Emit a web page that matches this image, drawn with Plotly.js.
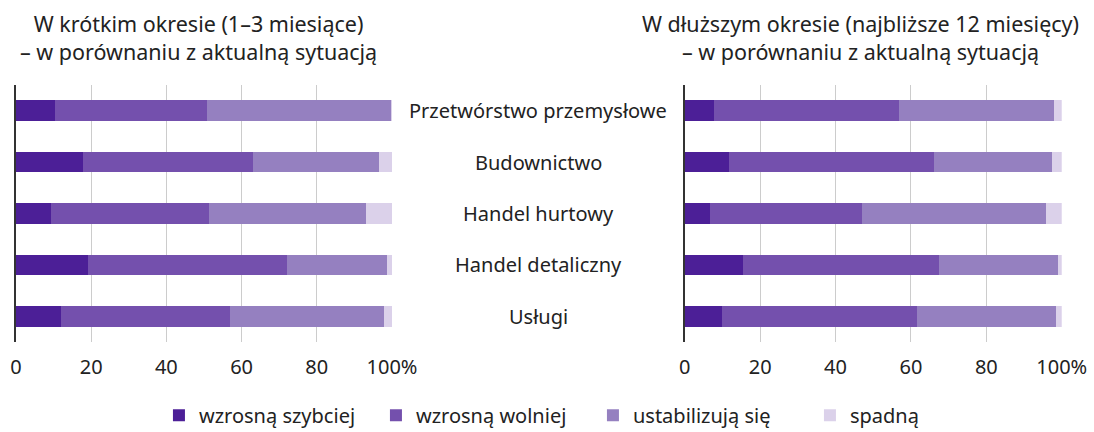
<!DOCTYPE html>
<html>
<head>
<meta charset="utf-8">
<script src="https://cdn.plot.ly/plotly-3.0.1.min.js"></script>
<style>
  body { margin: 0; background: #fff; }
  #chart { width: 1094px; height: 432px; }
</style>
</head>
<body>
<div id="chart"></div>
<script>
// sectors, top to bottom
var sectors = ["Przetwórstwo przemysłowe", "Budownictwo", "Handel hurtowy", "Handel detaliczny", "Usługi"];
var seriesNames = ["wzrosną szybciej", "wzrosną wolniej", "ustabilizują się", "spadną"];
var seriesColors = ["#4c1f97", "#7450ad", "#9580c0", "#dbd1ea"];

// short term (1-3 months), % of answers
var shortFaster = [10.3, 17.7, 9.4, 19.2, 11.9];
var shortSlower = [40.6, 45.4, 42.0, 53.0, 45.0];
var shortStable = [48.8, 33.4, 41.6, 26.6, 41.1];
var shortDown = [0.3, 3.5, 7.0, 1.2, 2.0];

// longer term (next 12 months)
var longFaster = [7.8, 11.7, 6.7, 15.4, 9.9];
var longSlower = [49.0, 54.3, 40.3, 52.0, 51.7];
var longStable = [41.2, 31.5, 48.9, 31.5, 36.8];
var longDown = [2.0, 2.5, 4.1, 1.1, 1.6];

var tickVals = [0, 20, 40, 60, 80, 100];
var tickText = ["0", "20", "40", "60", "80", "100%"];

var titleLeft = ["W krótkim okresie (1–3 miesiące)", "– w porównaniu z aktualną sytuacją"];
var titleRight = ["W dłuższym okresie (najbliższe 12 miesięcy)", "– w porównaniu z aktualną sytuacją"];

var font = "'Noto Sans', Roboto, sans-serif";

var shortData = [shortFaster, shortSlower, shortStable, shortDown];
var longData = [longFaster, longSlower, longStable, longDown];

var traces = [];
for (var i = 0; i < 4; i++) {
  traces.push({
    type: "bar", orientation: "h",
    x: shortData[i], y: sectors,
    name: seriesNames[i],
    marker: { color: seriesColors[i] },
    xaxis: "x", yaxis: "y",
    legendgroup: "g" + i,
    hoverinfo: "x+name"
  });
  traces.push({
    type: "bar", orientation: "h",
    x: longData[i], y: sectors,
    name: seriesNames[i],
    marker: { color: seriesColors[i] },
    xaxis: "x2", yaxis: "y2",
    legendgroup: "g" + i,
    showlegend: false,
    hoverinfo: "x+name"
  });
}

var xTemplate = {
  range: [0, 100],
  tickvals: tickVals,
  ticktext: tickText,
  showgrid: true,
  gridcolor: "#cccccc",
  gridwidth: 1,
  zeroline: false,
  showline: false,
  ticks: "",
  ticklabelstandoff: 11,
  tickfont: { family: font, size: 20, color: "#222" },
  fixedrange: true
};
var yTemplate = {
  autorange: "reversed",
  showticklabels: false,
  showgrid: false,
  showline: true,
  linecolor: "#333",
  linewidth: 1.5,
  zeroline: false,
  ticks: "",
  fixedrange: true
};

var annotations = [];
sectors.forEach(function (s) {
  annotations.push({
    text: s, x: 0.492, xref: "paper", y: s, yref: "y",
    xanchor: "center", yanchor: "middle", showarrow: false,
    font: { family: font, size: 20, color: "#222" }
  });
});
[titleLeft, titleRight].forEach(function (t, k) {
  annotations.push({
    text: t.join("<br>"), x: k === 0 ? 0.181 : 0.787, xref: "paper",
    y: 1.0, yref: "paper", yshift: 48, xanchor: "center", yanchor: "middle",
    align: "center", showarrow: false,
    font: { family: font, size: 21.5, color: "#222" }
  });
});

var layout = {
  width: 1094, height: 432,
  margin: { l: 0, r: 0, t: 85, b: 90, autoexpand: false },
  paper_bgcolor: "#fff", plot_bgcolor: "#fff",
  barmode: "stack",
  bargap: 0.6,
  showlegend: true,
  legend: {
    orientation: "h", x: 0.542, xanchor: "center", y: -0.285, yanchor: "middle",
    font: { family: font, size: 20, color: "#222" },
    entrywidth: 172,
    traceorder: "normal"
  },
  xaxis: Object.assign({}, xTemplate, { domain: [0.0146, 0.3583], anchor: "y" }),
  yaxis: Object.assign({}, yTemplate, { anchor: "x" }),
  xaxis2: Object.assign({}, xTemplate, { domain: [0.6259, 0.9705], anchor: "y2" }),
  yaxis2: Object.assign({}, yTemplate, { anchor: "x2" }),
  annotations: annotations
};

Plotly.newPlot("chart", traces, layout, { displayModeBar: false, staticPlot: true });
</script>
</body>
</html>
